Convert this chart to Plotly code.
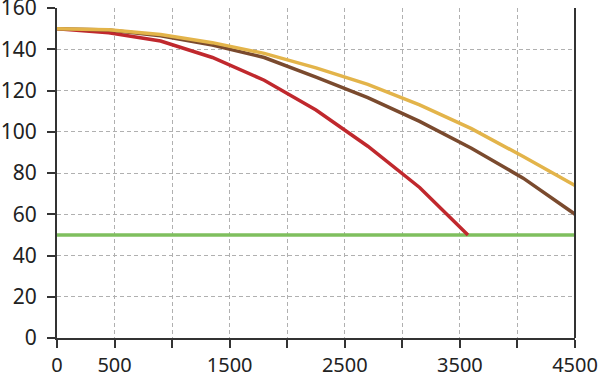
import plotly.graph_objects as go

red_x = [0, 450, 900, 1350, 1800, 2250, 2700, 3150, 3570]
red_y = [150, 148, 144, 136, 125, 110.5, 93, 73, 50]

brown_x = [0, 450, 900, 1350, 1800, 2250, 2700, 3150, 3600, 4050, 4500]
brown_y = [150, 149.3, 146.5, 142, 136, 126.5, 116.5, 105, 92, 77.5, 60]

yellow_x = [0, 450, 900, 1350, 1800, 2250, 2700, 3150, 3600, 4050, 4500]
yellow_y = [150, 149.5, 147.2, 143.2, 138, 131, 123, 113, 101.5, 88, 74]

green_x = [0, 4500]
green_y = [50, 50]

x_ticks = [0, 500, 1000, 1500, 2000, 2500, 3000, 3500, 4000, 4500]
x_ticktext = ["0", "500", "", "1500", "", "2500", "", "3500", "", "4500"]
y_ticks = [0, 20, 40, 60, 80, 100, 120, 140, 160]

fig = go.Figure()
fig.add_trace(go.Scatter(x=green_x, y=green_y, mode="lines",
                         line=dict(color="#7fbf5e", width=3.5)))
fig.add_trace(go.Scatter(x=red_x, y=red_y, mode="lines",
                         line=dict(color="#c0282d", width=3.5)))
fig.add_trace(go.Scatter(x=brown_x, y=brown_y, mode="lines",
                         line=dict(color="#7a4a2e", width=3.5)))
fig.add_trace(go.Scatter(x=yellow_x, y=yellow_y, mode="lines",
                         line=dict(color="#e3b44a", width=3.5)))

axis_common = dict(
    showline=True, linecolor="#333333", linewidth=2,
    ticks="outside", ticklen=8, tickwidth=2, tickcolor="#333333",
    showgrid=True, gridcolor="#b0b0b0", gridwidth=1, griddash="4px,3px",
    zeroline=False, automargin=False, ticklabeloverflow="allow",
)

fig.update_layout(
    width=600, height=376,
    margin=dict(l=57, r=25, t=8, b=38),
    paper_bgcolor="white", plot_bgcolor="white",
    showlegend=False,
    xaxis=dict(range=[0, 4500], tickmode="array", tickvals=x_ticks,
               ticktext=x_ticktext, ticklabelstandoff=0,
               tickfont=dict(family="Noto Sans", size=20, color="#222222"),
               **axis_common),
    yaxis=dict(range=[0, 160], tickmode="array", tickvals=y_ticks,
               ticklabelstandoff=6,
               tickfont=dict(family="Noto Sans", size=21, color="#222222"),
               **axis_common),
    shapes=[dict(type="line", xref="paper", yref="paper", x0=1, x1=1,
                 y0=0, y1=1, line=dict(color="#333333", width=2))],
)

fig.write_html("out.html", config={"displayModeBar": False},
               post_script="document.body.style.margin='0';document.body.style.overflow='hidden';")
